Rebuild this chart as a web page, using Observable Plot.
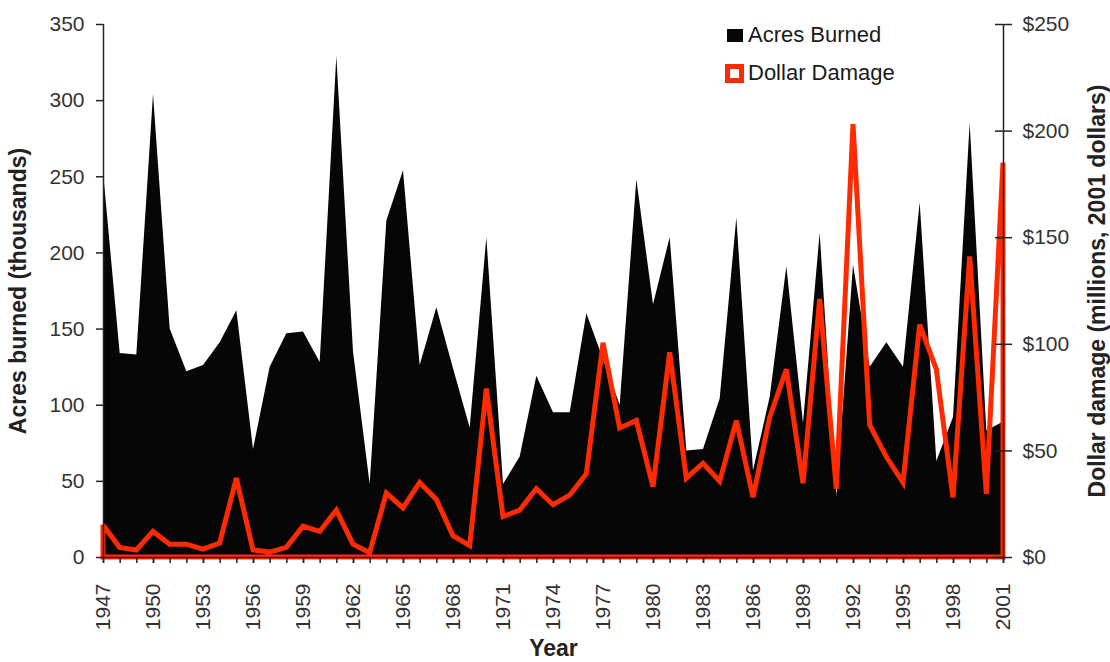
<!DOCTYPE html>
<html>
<head>
<meta charset="utf-8">
<script src="https://cdn.jsdelivr.net/npm/d3@7"></script>
<script src="https://cdn.jsdelivr.net/npm/@observablehq/plot@0.6"></script>
<style>
  html, body { margin: 0; padding: 0; background: #fff; }
  #wrap { position: relative; width: 1110px; height: 662px; font-family: "Liberation Sans", Arial, sans-serif; }
  .leg { position: absolute; left: 725px; display: flex; align-items: center; font-size: 22px; color: #1a1a1a; }
  .sw1 { width: 16px; height: 13px; background: #060606; margin: 0 5px 0 2px; }
  .sw2 { width: 9px; height: 9px; border: 5px solid #ff2a00; background: #fff; margin-right: 4px; }
</style>
</head>
<body>
<div id="wrap"></div>
<script>
// ---- Data ----
const years = [1947,1948,1949,1950,1951,1952,1953,1954,1955,1956,1957,1958,1959,1960,1961,1962,1963,1964,1965,1966,
               1967,1968,1969,1970,1971,1972,1973,1974,1975,1976,1977,1978,1979,1980,1981,1982,1983,1984,1985,1986,
               1987,1988,1989,1990,1991,1992,1993,1994,1995,1996,1997,1998,1999,2000,2001];
// Acres burned (thousands)
const acresBurned = [253,134,133,304,150,122,126,141,162,71,125,147,148,128,329,135,48,221,254,126,
                     164,124,85,210,48,66,119,95,95,160,130,100,248,166,210,70,71,104,223,57,
                     105,191,88,213,40,192,125,141,125,233,63,92,285,83,89];
// Dollar damage (millions, 2001 dollars)
const dollarDamage = [15,4.5,3.3,12,6,6,3.7,6.5,37,3.3,2.3,4.5,14.5,12,22,6,2,30,23,35,
                      27,10,5.3,79,19,22,32,24.5,29,39,100.5,60.5,64,33,96,37,44,35.5,64,28,
                      65.5,88,34.6,121,32,203,62,47,35,109,88,28,141,29.6,185];
const acresTicks = [0,50,100,150,200,250,300,350];
const dollarTicks = [0,50,100,150,200,250];
const yearLabels = [1947,1950,1953,1956,1959,1962,1965,1968,1971,1974,1977,1980,1983,1986,1989,1992,1995,1998,2001];
const seriesNames = ["Acres Burned", "Dollar Damage"];
const axisTitles = { y: "Acres burned (thousands)", y2: "Dollar damage (millions, 2001 dollars)", x: "Year" };

// Right axis maps $0–$250 onto the left axis range 0–350
const acresMax = 350, dollarMax = 250;
const toLeft = d => d * acresMax / dollarMax;

const table = years.map((yr, i) => ({ year: yr, acres: acresBurned[i], damage: toLeft(dollarDamage[i]) }));

const RED = "#ff2a00";
const TEXT = "#333";
const W = 1110, H = 662, ML = 103, MR = 107, MT = 24, MB = 105;

const chart = Plot.plot({
  width: W,
  height: H,
  marginLeft: ML,
  marginRight: MR,
  marginTop: MT,
  marginBottom: MB,
  style: { fontFamily: "'Liberation Sans', Arial, sans-serif", background: "#fff", color: TEXT, overflow: "visible" },
  x: { domain: [years[0], years[years.length - 1]] },
  y: { domain: [0, acresMax] },
  marks: [
    Plot.areaY(table, { x: "year", y: "acres", fill: "#060606" }),
    Plot.areaY(table, { x: "year", y: "damage", fill: "none", stroke: RED, strokeWidth: 5, strokeLinejoin: "miter", strokeMiterlimit: 3 }),
    // axis lines
    Plot.ruleX([years[0]], { stroke: "#222", strokeWidth: 1.5 }),
    Plot.ruleX([years[years.length - 1]], { stroke: "#222", strokeWidth: 1.5 }),
    Plot.ruleY([0], { stroke: "#222", strokeWidth: 1.5 }),
    // left axis
    Plot.axisY({ anchor: "left", ticks: acresTicks, tickSize: 7, tickPadding: 12, fontSize: 21, label: null, stroke: "#222", strokeWidth: 1.5, fill: TEXT }),
    // right axis (dollars): ticks cross the axis line
    Plot.axisY({ anchor: "right", ticks: dollarTicks.map(toLeft), tickFormat: d => "$" + Math.round(d * dollarMax / acresMax),
                 tickSize: 8, tickPadding: 11, fontSize: 21, label: null, stroke: "#222", strokeWidth: 1.5, fill: TEXT }),
    Plot.ruleY(dollarTicks.map(toLeft), { insetLeft: W - ML - MR - 8, stroke: "#222", strokeWidth: 1.5 }),
    // bottom axis: ticks every year, labels every 3 years
    Plot.axisX({ ticks: years, tickSize: 6, tickFormat: () => "", label: null, stroke: "#222", strokeWidth: 1.5 }),
    Plot.axisX({ ticks: yearLabels, tickSize: 6, tickPadding: 20, tickRotate: -90, tickFormat: d => String(d), fontSize: 21, label: null, stroke: "#222", strokeWidth: 1.5, fill: TEXT }),
    // axis titles
    Plot.text([axisTitles.y], { frameAnchor: "left", dx: -85, rotate: -90, textAnchor: "middle", fontWeight: "bold", fontSize: 23, fill: "#222" }),
    Plot.text([axisTitles.y2], { frameAnchor: "right", dx: 94, rotate: -90, textAnchor: "middle", fontWeight: "bold", fontSize: 23, fill: "#222" }),
    Plot.text([axisTitles.x], { frameAnchor: "bottom", dy: 98, textAnchor: "middle", fontWeight: "bold", fontSize: 23, fill: "#222" })
  ]
});

const wrap = document.getElementById("wrap");
wrap.appendChild(chart);

// legend (inside plot area, top right)
const l1 = document.createElement("div");
l1.className = "leg"; l1.style.top = "22px";
l1.innerHTML = `<span class="sw1"></span><span>${seriesNames[0]}</span>`;
const l2 = document.createElement("div");
l2.className = "leg"; l2.style.top = "60px";
l2.innerHTML = `<span class="sw2"></span><span>${seriesNames[1]}</span>`;
wrap.appendChild(l1);
wrap.appendChild(l2);
</script>
</body>
</html>
